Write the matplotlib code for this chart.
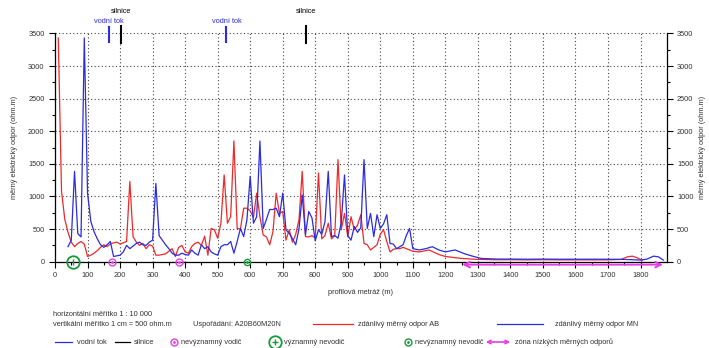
import matplotlib
matplotlib.use("Agg")
import matplotlib.pyplot as plt
from matplotlib.ticker import MultipleLocator

plt.rcParams['font.family'] = ['Liberation Sans', 'DejaVu Sans']

# zdanlivy merny odpor AB (red)
ab_m = [10, 20, 30, 40, 50, 60, 70, 80, 90, 100, 110, 120, 130, 140, 150, 160, 170, 180, 190, 200,
        210, 220, 230, 240, 250, 260, 270, 280, 290, 300, 310, 320, 330, 340, 350, 360, 370, 380, 390, 400,
        410, 420, 430, 440, 450, 460, 470, 480, 490, 500, 510, 520, 530, 540, 550, 560, 570, 580, 590, 600,
        610, 620, 630, 640, 650, 660, 670, 680, 690, 700, 710, 720, 730, 740, 750, 760, 770, 780, 790, 800,
        810, 820, 830, 840, 850, 860, 870, 880, 890, 900, 910, 920, 930, 940, 950, 960, 970, 980, 990, 1000,
        1010, 1020, 1030, 1040, 1050, 1060, 1070, 1080, 1090, 1100, 1120, 1150, 1180, 1200, 1250, 1300,
        1350, 1400, 1450, 1500, 1550, 1600, 1650, 1700, 1740, 1760, 1775, 1790, 1805]
ab_val = [3430, 1080, 650, 450, 300, 230, 280, 310, 270, 80, 100, 130, 170, 220, 260, 230, 270, 290, 300, 270,
          290, 310, 1230, 380, 300, 250, 280, 200, 260, 240, 100, 100, 110, 120, 160, 200, 80, 220, 250, 150,
          130, 230, 280, 300, 250, 390, 100, 510, 490, 360, 590, 1330, 590, 690, 1850, 510, 500, 820, 820, 780,
          680, 1050, 690, 410, 380, 260, 460, 1050, 740, 770, 330, 490, 300, 420, 640, 1385, 385, 380, 400, 360,
          1360, 350, 400, 590, 350, 400, 1565, 490, 740, 385, 690, 490, 560, 720, 280, 260, 180, 220, 260, 420,
          490, 310, 150, 190, 200, 200, 220, 200, 180, 160, 150, 180, 110, 80, 50, 35,
          30, 30, 28, 30, 28, 28, 27, 28, 35, 75, 85, 60, 20]

# zdanlivy merny odpor MN (blue)
mn_m = [40, 50, 60, 70, 80, 90, 100, 110, 120, 130, 140, 150, 160, 170, 180, 190, 200,
        210, 220, 230, 240, 250, 260, 270, 280, 290, 300, 310, 320, 330, 340, 350, 360, 370, 380, 390, 400,
        410, 420, 430, 440, 450, 460, 470, 480, 490, 500, 510, 520, 530, 540, 550, 560, 570, 580, 590, 600,
        610, 620, 630, 640, 650, 660, 670, 680, 690, 700, 710, 720, 730, 740, 750, 760, 770, 780, 790, 800,
        810, 820, 830, 840, 850, 860, 870, 880, 890, 900, 910, 920, 930, 940, 950, 960, 970, 980, 990, 1000,
        1010, 1020, 1030, 1040, 1050, 1060, 1070, 1080, 1090, 1100, 1120, 1140, 1160, 1180, 1200, 1230,
        1260, 1280, 1310, 1360, 1400, 1450, 1500, 1550, 1600, 1650, 1700, 1750, 1780, 1800, 1820, 1840,
        1855, 1870]
mn_val = [230, 330, 1385, 430, 380, 3430, 1050, 620, 460, 350, 260, 220, 260, 310, 80, 90, 100,
          150, 250, 200, 240, 280, 300, 260, 250, 300, 330, 1200, 400, 330, 260, 200, 130, 100, 100, 130, 110,
          100, 180, 130, 100, 260, 200, 230, 150, 120, 100, 230, 260, 260, 310, 130, 310, 510, 385, 640, 1310,
          590, 690, 1850, 510, 650, 800, 800, 820, 690, 1050, 490, 435, 350, 260, 500, 1025, 410, 770, 670, 320,
          490, 420, 615, 1385, 385, 400, 360, 600, 1330, 400, 330, 540, 450, 520, 1565, 510, 740, 385, 720, 510,
          580, 720, 280, 270, 200, 230, 260, 400, 510, 200, 180, 200, 230, 180, 150, 180,
          120, 90, 50, 40, 40, 38, 40, 38, 38, 38, 38, 35, 30, 25, 40, 85,
          75, 25]

# objekty nad profilem
vodni_tok_m = [166, 527]
silnice_m = [203, 773]

# interpretace na profilu
vyznamny_nevodic_m = [54]
nevyznamny_vodic_m = [175, 380]
nevyznamny_nevodic_m = [590]
zona_nizkych = (1252, 1869)

red = '#ec2a2a'
blue = '#2b2bdf'
magenta = '#e53ee5'
green = '#169a3c'
txt = '#333333'
fs = 5.3

fig = plt.figure(figsize=(7.09, 3.48), dpi=100)
ax = fig.add_axes([0.0776, 0.248, 0.8625, 0.656])

ax.plot(ab_m, ab_val, color=red, lw=0.9, zorder=3)
ax.plot(mn_m, mn_val, color=blue, lw=0.9, zorder=4)

ax.set_xlim(0, 1880)
ax.set_ylim(0, 3500)
ax.xaxis.set_major_locator(MultipleLocator(100))
ax.xaxis.set_minor_locator(MultipleLocator(50))
ax.yaxis.set_major_locator(MultipleLocator(500))
ax.yaxis.set_minor_locator(MultipleLocator(250))
ax.set_xticks(range(0, 1801, 100))
ax.grid(True, which='major', color='#444444', linestyle=(0, (1, 2.2)), lw=0.8)
ax.spines['top'].set_visible(False)
ax.tick_params(axis='both', which='both', direction='out', labelsize=fs, labelcolor=txt,
               right=True, labelright=True, width=0.8)
ax.tick_params(which='major', length=4)
ax.tick_params(which='minor', length=2.5)
for s in ['left', 'right', 'bottom']:
    ax.spines[s].set_linewidth(0.9)

# objekty nad grafem
for m in vodni_tok_m:
    ax.plot([m, m], [3370, 3600], color=blue, lw=1.5, clip_on=False)
    ax.text(m, 3690, 'vodní tok', color=blue, fontsize=fs, ha='center', va='center')
for m in silnice_m:
    ax.plot([m, m], [3360, 3610], color='black', lw=1.5, clip_on=False)
    ax.text(m, 3840, 'silnice', color='black', fontsize=fs, ha='center', va='center')

# interpretacni znacky
for m in vyznamny_nevodic_m:
    ax.plot(m, 0, 'o', ms=9, mfc='none', mec=green, mew=1.3, clip_on=False, zorder=6)
    ax.plot(m, 0, '|', ms=5, color=green, mew=1, clip_on=False, zorder=6)
for m in nevyznamny_vodic_m:
    ax.plot(m, 0, 'o', ms=5, mfc='none', mec=magenta, mew=1, clip_on=False, zorder=6)
    ax.plot(m, 0, '.', ms=2, color=magenta, clip_on=False, zorder=6)
for m in nevyznamny_nevodic_m:
    ax.plot(m, 0, 'o', ms=4.5, mfc='none', mec=green, mew=1, clip_on=False, zorder=6)
    ax.plot(m, 0, '.', ms=2, color=green, clip_on=False, zorder=6)
ax.annotate('', xy=(zona_nizkych[0], -45), xytext=(zona_nizkych[1], -45),
            arrowprops=dict(arrowstyle='<->', color=magenta, lw=1.4, shrinkA=0, shrinkB=0),
            annotation_clip=False)

# popisky os
fig.text(361 / 709, 1 - 293 / 348, 'profilová metráž (m)', fontsize=fs, color=txt, ha='center', va='center')
fig.text(15 / 709, 1 - 147 / 348, 'měrný elektrický odpor (ohm.m)', fontsize=fs, color=txt,
         rotation=90, ha='center', va='center')
fig.text(703 / 709, 1 - 147 / 348, 'měrný elektrický odpor (ohm.m)', fontsize=fs, color=txt,
         rotation=90, ha='center', va='center')


# legenda pod grafem
def ftext(x, y, s):
    fig.text(x / 709, 1 - y / 348, s, fontsize=fs, color=txt, ha='left', va='center')


def fline(x0, x1, y, color):
    fig.add_artist(plt.Line2D([x0 / 709, x1 / 709], [1 - y / 348, 1 - y / 348], color=color, lw=0.9))


def fmark(x, y, **kw):
    fig.add_artist(plt.Line2D([x / 709], [1 - y / 348], **kw))


ftext(53, 314, 'horizontální měřítko 1 : 10 000')
ftext(53, 324, 'vertikální měřítko 1 cm = 500 ohm.m')
ftext(193, 324, 'Uspořádání: A20B60M20N')
fline(313, 353, 324, red)
ftext(358, 324, 'zdánlivý měrný odpor AB')
fline(497, 543, 324, blue)
ftext(555, 324, 'zdánlivý měrný odpor MN')

y3 = 342
fline(55, 72, y3, blue)
ftext(77, y3, 'vodní tok')
fline(115, 130, y3, 'black')
ftext(134, y3, 'silnice')
fmark(174, y3, marker='o', ms=5, mfc='none', mec=magenta, mew=1)
fmark(174, y3, marker='.', ms=2, color=magenta)
ftext(181, y3, 'nevýznamný vodič')
fmark(275, y3, marker='o', ms=9, mfc='none', mec=green, mew=1.3)
fmark(275, y3, marker='+', ms=5, color=green, mew=1)
ftext(284, y3, 'významný nevodič')
fmark(408, y3, marker='o', ms=5, mfc='none', mec=green, mew=1)
fmark(408, y3, marker='.', ms=2, color=green)
ftext(415, y3, 'nevýznamný nevodič')
fig.add_artist(matplotlib.patches.FancyArrowPatch((483 / 709, 1 - y3 / 348), (513 / 709, 1 - y3 / 348),
                                                  arrowstyle='<->', mutation_scale=6, color=magenta, lw=1.2,
                                                  transform=fig.transFigure))
ftext(515, y3, 'zóna nízkých měrných odporů')

fig.savefig('out.png', dpi=100)
